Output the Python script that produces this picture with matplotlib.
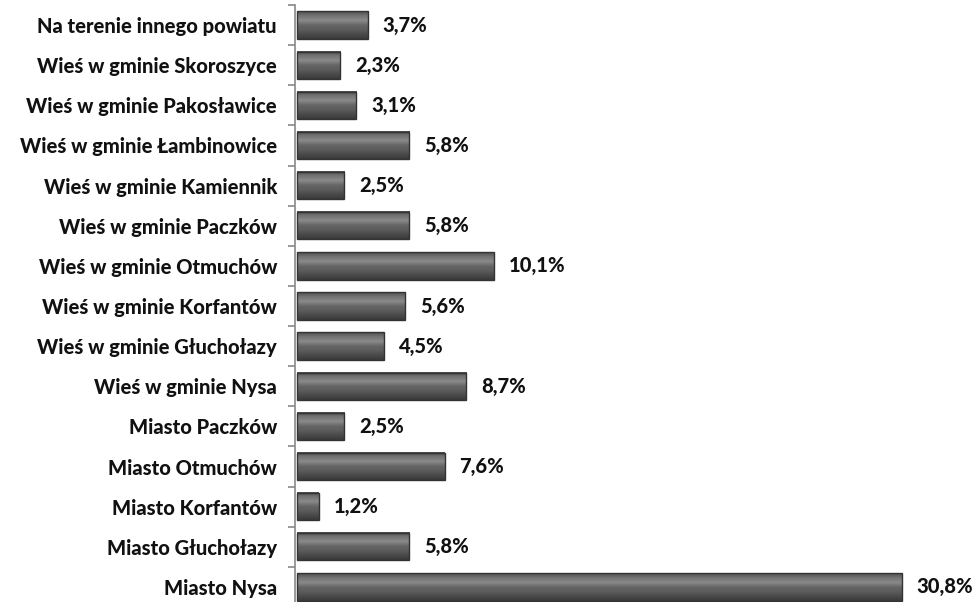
import numpy as np
import matplotlib
matplotlib.use("Agg")
import matplotlib.pyplot as plt
from matplotlib.colors import LinearSegmentedColormap

# categories from top to bottom
labels = [
    "Na terenie innego powiatu",
    "Wieś w gminie Skoroszyce",
    "Wieś w gminie Pakosławice",
    "Wieś w gminie Łambinowice",
    "Wieś w gminie Kamiennik",
    "Wieś w gminie Paczków",
    "Wieś w gminie Otmuchów",
    "Wieś w gminie Korfantów",
    "Wieś w gminie Głuchołazy",
    "Wieś w gminie Nysa",
    "Miasto Paczków",
    "Miasto Otmuchów",
    "Miasto Korfantów",
    "Miasto Głuchołazy",
    "Miasto Nysa",
]
values = [3.7, 2.3, 3.1, 5.8, 2.5, 5.8, 10.1, 5.6, 4.5, 8.7, 2.5, 7.6, 1.2, 5.8, 30.8]

plt.rcParams['font.family'] = ['Lato', 'DejaVu Sans']

fig = plt.figure(figsize=(9.73, 6.02), dpi=100)
# axes placed so the category axis sits at x=295px
ax = fig.add_axes([295 / 973, -5 / 602, 670 / 973, 602 / 602])

n = len(labels)
ypos = np.arange(n)[::-1]
bh = 0.68

# gradient for the bevelled bars (top -> bottom)
grad = LinearSegmentedColormap.from_list(
    "bevel", ["#3a3a3a", "#4a4a4a", "#5c5c5c", "#666666", "#8a8a8a", "#747474", "#505050"])
g = np.linspace(0, 1, 64).reshape(-1, 1)

for y, v in zip(ypos, values):
    ax.imshow(g, cmap=grad, aspect='auto', origin='lower',
              extent=[0.1, v, y - bh / 2, y + bh / 2], zorder=2)
    ax.barh(y, v - 0.1, left=0.1, height=bh, facecolor='none',
            edgecolor='#333333', linewidth=1.0, zorder=3)
    ax.text(v + 0.75, y, ("%.1f%%" % v).replace('.', ','), va='center', ha='left',
            fontsize=14.5, fontweight=900, color='#111111')

ax.set_xlim(0, 34)
ax.set_ylim(-0.5, n - 0.5)

ax.set_yticks(ypos)
ax.set_yticklabels(labels, fontsize=14.5, fontweight=900, color='#111111')
ax.set_yticks(np.arange(-0.5, n, 1.0), minor=True)
ax.tick_params(axis='y', which='major', length=0, pad=13)
ax.tick_params(axis='y', which='minor', length=5, width=1.2, color='#888888')
ax.set_xticks([])

for s in ['top', 'right', 'bottom']:
    ax.spines[s].set_visible(False)
ax.spines['left'].set_color('#888888')
ax.spines['left'].set_linewidth(1.2)

fig.savefig("out.png", dpi=100)
